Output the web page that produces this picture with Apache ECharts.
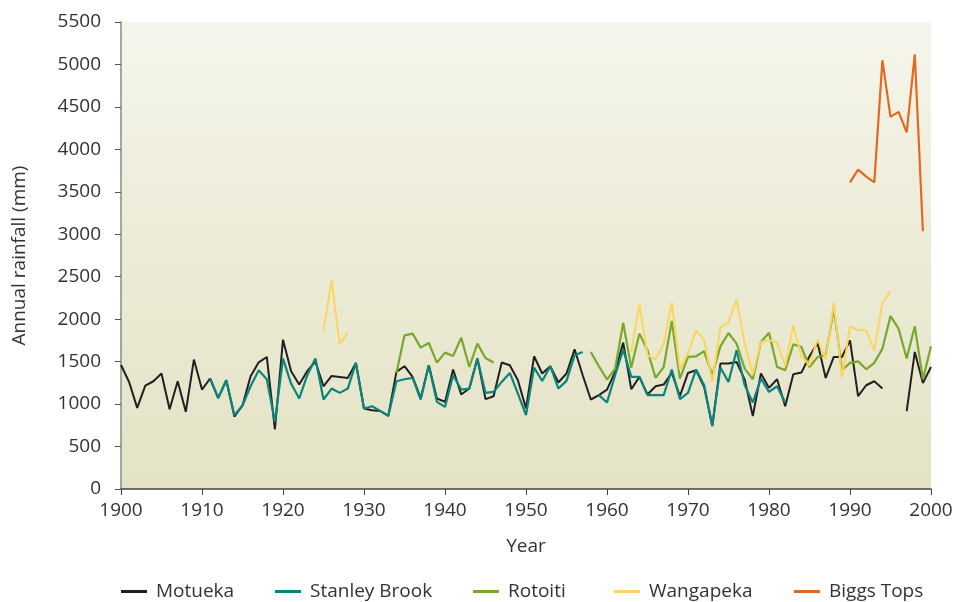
<!DOCTYPE html>
<html>
<head>
<meta charset="utf-8">
<script src="https://cdn.jsdelivr.net/npm/echarts@6/dist/echarts.min.js"></script>
<style>
html,body{margin:0;padding:0;background:#fff;}
#chart{width:963px;height:602px;}
</style>
</head>
<body>
<div id="chart"></div>
<script>
// ---- data ----
var seriesNames = ['Motueka', 'Stanley Brook', 'Rotoiti', 'Wangapeka', 'Biggs Tops'];
var yTicks = [0, 500, 1000, 1500, 2000, 2500, 3000, 3500, 4000, 4500, 5000, 5500];
var xTicks = [1900, 1910, 1920, 1930, 1940, 1950, 1960, 1970, 1980, 1990, 2000];

var motuekaStart = 1900;
var motueka = [
  1460, 1260, 955, 1218, 1269, 1360, 940, 1269, 909, 1524,
  1171, 1301, 1070, 1281, 852, 983, 1328, 1492, 1555, 701,
  1759, 1387, 1230, 1390, 1500, 1210, 1332, 1320, 1308, 1485,
  948, 928, 920, 861, 1379, 1446, 1320, 1070, 1457, 1066,
  1026, 1407, 1113, 1183, 1536, 1058, 1093, 1489, 1457, 1281,
  948, 1563, 1360, 1446, 1254, 1360, 1645, 1340, 1054, 1105,
  1171, 1379, 1724, 1175, 1320, 1113, 1210, 1230, 1367, 1093,
  1367, 1398, 1200, 740, 1477, 1477, 1496, 1289, 858, 1360,
  1191, 1293, 975, 1351, 1371, 1563, 1720, 1308, 1555, 1555,
  1751, 1093, 1222, 1269, 1183, null, null, 917, 1614, 1249,
  1437
];

var stanleyStart = 1911;
var stanley = [
  1301, 1073, 1281, 870, 983, 1210, 1398, 1293, 791,
  1536, 1242, 1066, 1340, 1536, 1054, 1183, 1132, 1183, 1485,
  948, 975, 920, 861, 1269, 1293, 1308, 1054, 1457, 1026,
  967, 1340, 1171, 1183, 1536, 1132, 1144, 1261, 1367, 1124,
  870, 1430, 1273, 1446, 1183, 1273, 1575, 1614, null, 1105,
  1019, 1340, 1641, 1320, 1320, 1105, 1105, 1105, 1407, 1058,
  1132, 1407, 1222, 744, 1430, 1261, 1633, 1222, 1019, 1301,
  1144, 1210, 1020
];

var rotoitiStart = 1934;
var rotoiti = [
  1367, 1810, 1830, 1665, 1720, 1489,
  1606, 1567, 1783, 1437, 1712, 1543, 1489, null, null, null,
  null, null, null, null, null, null, null, null, 1614, 1446,
  1289, 1418, 1955, 1430, 1830, 1633, 1308, 1437, 1978, 1301,
  1555, 1563, 1622, 1340, 1680, 1837, 1712, 1418, 1293, 1731,
  1841, 1437, 1398, 1704, 1672, 1437, 1555, 1575, 2124, 1398,
  1485, 1504, 1410, 1485, 1653, 2037, 1888, 1536, 1916, 1293,
  1680
];

var wangapekaEarlyStart = 1925;
var wangapekaEarly = [1870, 2456, 1704, 1842];
var wangapekaLateStart = 1963;
var wangapekaLate = [
  1614, 2174, 1575, 1528, 1704, 2194, 1407,
  1602, 1869, 1751, 1261, 1900, 1966, 2229, 1712, 1348, 1731,
  1751, 1724, 1446, 1927, 1563, 1457, 1763, 1528, 2194, 1312,
  1916, 1869, 1869, 1633, 2190, 2327
];

var biggsStart = 1990;
var biggs = [3612, 3761, 3678, 3612, 5050, 4383, 4442, 4199, 5119, 3035];

var colors = ['#231f20', '#0a857d', '#79a82c', '#fdd55c', '#e2691f'];

// ---- build ----
function pairs(start, vals) {
  return vals.map(function (v, i) { return [start + i, v]; });
}
var wangapekaData = pairs(wangapekaEarlyStart, wangapekaEarly)
  .concat([[wangapekaEarlyStart + wangapekaEarly.length, null]])
  .concat(pairs(wangapekaLateStart, wangapekaLate));

var dataSets = [
  pairs(motuekaStart, motueka),
  pairs(stanleyStart, stanley),
  pairs(rotoitiStart, rotoiti),
  wangapekaData,
  pairs(biggsStart, biggs)
];
var widths = [2, 2.2, 2.2, 2, 2.2];
var legendLefts = [121, 275, 473, 614, 794];

var FONT = '"Open Sans", "Noto Sans", sans-serif';
var TXT = '#333333';

var chart = echarts.init(document.getElementById('chart'), null, {renderer: 'canvas'});
chart.setOption({
  animation: false,
  backgroundColor: '#ffffff',
  textStyle: {fontFamily: FONT},
  grid: {
    left: 121, right: 32, top: 22, bottom: 113,
    show: true, borderWidth: 0,
    backgroundColor: {
      type: 'linear', x: 0, y: 0, x2: 0, y2: 1,
      colorStops: [
        {offset: 0, color: '#f5f5ec'},
        {offset: 0.5, color: '#ecebd6'},
        {offset: 1, color: '#e4e3c6'}
      ]
    }
  },
  legend: seriesNames.map(function (name, i) {
    return {
      left: legendLefts[i], top: 582, padding: 0,
      icon: 'rect', itemWidth: 26, itemHeight: 3,
      textStyle: {fontFamily: FONT, fontSize: 19, color: TXT, padding: [0, 0, 0, 4]},
      data: [name]
    };
  }),
  xAxis: {
    type: 'value', min: xTicks[0], max: xTicks[xTicks.length - 1], interval: 10,
    name: 'Year', nameLocation: 'middle', nameGap: 48,
    nameTextStyle: {fontFamily: FONT, fontSize: 19, color: TXT},
    axisLine: {show: true, lineStyle: {color: '#444444', width: 1.5}},
    axisTick: {show: true, length: 6, lineStyle: {color: '#444444'}},
    axisLabel: {fontFamily: FONT, fontSize: 19, color: TXT, margin: 12,
      formatter: function (v) { return String(v); }},
    splitLine: {show: false}
  },
  yAxis: {
    type: 'value', min: yTicks[0], max: yTicks[yTicks.length - 1], interval: 500,
    name: 'Annual rainfall (mm)', nameLocation: 'middle', nameGap: 92, nameRotate: 90,
    nameTextStyle: {fontFamily: FONT, fontSize: 19, color: TXT},
    axisLine: {show: true, lineStyle: {color: '#8a8a8a', width: 1.5}},
    axisTick: {show: true, length: 6, lineStyle: {color: '#555555'}},
    axisLabel: {fontFamily: FONT, fontSize: 19, color: TXT, margin: 20,
      formatter: function (v) { return String(v); }},
    splitLine: {show: false}
  },
  series: seriesNames.map(function (name, i) {
    return {
      name: name, type: 'line', data: dataSets[i],
      showSymbol: false, symbol: 'none', connectNulls: false,
      color: colors[i],
      lineStyle: {color: colors[i], width: widths[i]},
      emphasis: {disabled: true}
    };
  })
});
</script>
</body>
</html>
